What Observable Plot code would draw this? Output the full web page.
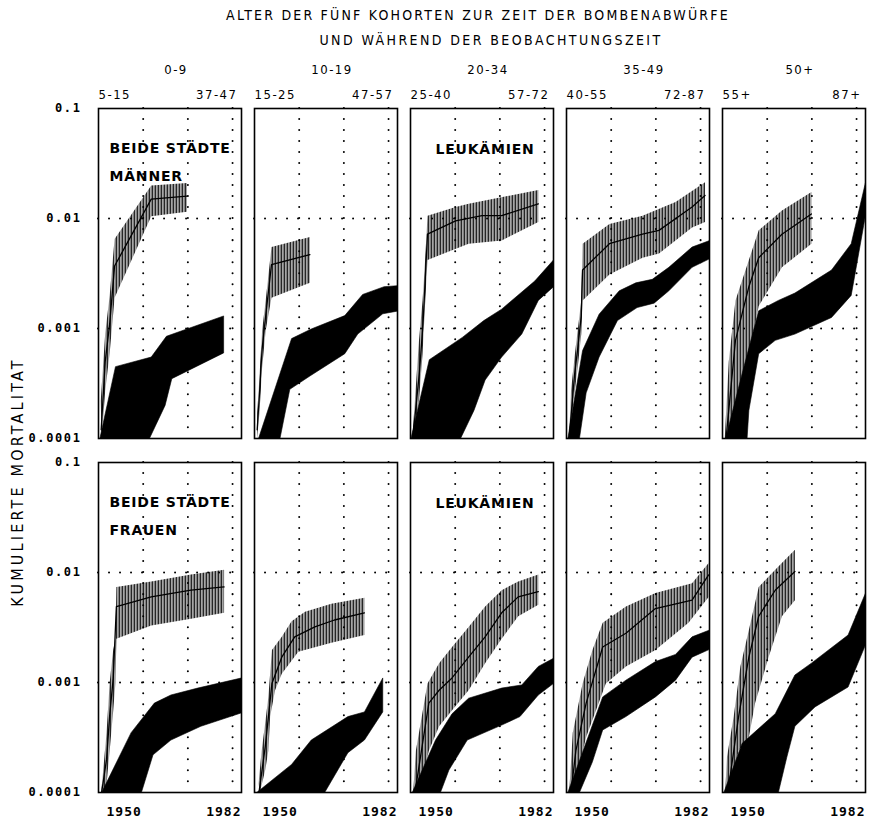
<!DOCTYPE html>
<html><head><meta charset="utf-8">
<script src="https://cdn.jsdelivr.net/npm/d3@7"></script>
<script src="https://cdn.jsdelivr.net/npm/@observablehq/plot@0.6"></script>
<style>
body{margin:0;background:#fff}
#wrap{position:relative;width:870px;height:829px;background:#fff}
#wrap svg{position:absolute;left:0;top:0}
.t{position:absolute;white-space:nowrap;font-family:"DejaVu Sans Condensed","DejaVu Sans",sans-serif;font-stretch:condensed;color:#000;line-height:1;transform:translate(-50%,-50%)}
.t1{left:478px;top:15px;font-size:14px;letter-spacing:2.2px}
.t2{left:491px;top:40px;font-size:14px;letter-spacing:2.4px}
.yl{left:18px;top:482px;font-size:16px;letter-spacing:3.2px;transform:translate(-50%,-50%) rotate(-90deg)}
g[font-family="DejaVu Sans Mono"]{letter-spacing:1.6px}
g[font-family="DejaVu Sans Mono, monospace"]{letter-spacing:1px}
g[font-family="DejaVu Sans"]{letter-spacing:0.8px}
g[font-family="DejaVu Sans Condensed"]{letter-spacing:1.5px}
</style></head><body>
<svg width="0" height="0" style="position:absolute"><defs>
<pattern id="vh" patternUnits="userSpaceOnUse" width="3" height="6"><rect x="0" y="0" width="1.7" height="6" fill="#000"/></pattern>
</defs></svg>
<div id="wrap">
<div class="t t1">ALTER DER FÜNF KOHORTEN ZUR ZEIT DER BOMBENABWÜRFE</div>
<div class="t t2">UND WÄHREND DER BEOBACHTUNGSZEIT</div>
<div class="t yl">KUMULIERTE MORTALITAT</div>
</div>
<script>
// ---- categories & tick labels ----
const cohorts = ["0-9", "10-19", "20-34", "35-49", "50+"];
const rows = ["MÄNNER", "FRAUEN"];
const ageStart = ["5-15", "15-25", "25-40", "40-55", "55+"];
const ageEnd = ["37-47", "47-57", "57-72", "72-87", "87+"];
const yTicks = [0.1, 0.01, 0.001, 0.0001];
const yTickLabels = ["0.1", "0.01", "0.001", "0.0001"];
const xTickStart = [1950];
const xTickEnd = [1982];
const gridYears = [1960, 1970, 1980];
const gridValues = [0.01, 0.001];
const xDomain = [1950, 1982];
const yDomain = [0.0001, 0.1];

// ---- Männer (top row): [year, cumulative mortality] ----
const M1HatchUp = [[1950.5,0.00022],[1951.5,0.0009],[1952.5,0.002],[1953.6,0.0065],[1961.8,0.020],[1969.8,0.021]];
const M1HatchLo = [[1950.7,0.0001],[1951.5,0.00027],[1952.5,0.0006],[1953.6,0.0019],[1961.8,0.0105],[1969.8,0.0115]];
const M1HatchMid = [[1950.6,0.00012],[1951.5,0.0005],[1952.5,0.0011],[1953.6,0.0037],[1961.8,0.015],[1969.8,0.016]];
const M1BlackUp = [[1950.3,0.0001],[1953.8,0.00045],[1961.8,0.00055],[1965.2,0.00085],[1978,0.0013]];
const M1BlackLo = [[1961.4,0.0001],[1964.9,0.0002],[1966.4,0.00035],[1978,0.0006]];

const M2HatchUp = [[1950.6,0.00017],[1951.1,0.00036],[1951.7,0.00096],[1952.5,0.0018],[1953.8,0.0055],[1962.4,0.0068]];
const M2HatchLo = [[1950.6,0.0001],[1951.1,0.00017],[1951.7,0.00044],[1952.5,0.00096],[1953.8,0.0019],[1962.4,0.0026]];
const M2HatchMid = [[1950.6,0.00012],[1951.1,0.00025],[1951.7,0.00065],[1952.5,0.0013],[1953.8,0.0038],[1962.4,0.0047]];
const M2BlackUp = [[1950.9,0.0001],[1958.3,0.00081],[1962.7,0.00099],[1970.2,0.00131],[1974.2,0.00204],[1979,0.0024],[1982,0.00245]];
const M2BlackLo = [[1955.7,0.0001],[1957.9,0.00028],[1962.4,0.00037],[1970.2,0.00059],[1973.1,0.00089],[1978.7,0.00136],[1982,0.00144]];

const M3HatchUp = [[1950.4,0.0001],[1951.9,0.00078],[1952.7,0.0018],[1953.3,0.0044],[1953.8,0.0106],[1960.1,0.0127],[1963,0.0136],[1978.6,0.0182]];
const M3HatchLo = [[1950.6,0.0001],[1951.9,0.00022],[1952.7,0.00059],[1953.3,0.0018],[1953.8,0.0042],[1963,0.0059],[1970.4,0.0063],[1978.6,0.0093]];
const M3HatchMid = [[1950.5,0.0001],[1952,0.0004],[1952.8,0.0011],[1953.8,0.0072],[1960.1,0.0095],[1966,0.0106],[1970.4,0.0106],[1978.6,0.0136]];
const M3BlackUp = [[1950.1,0.0001],[1954.2,0.00052],[1961.6,0.00083],[1966.4,0.00118],[1970.4,0.0015],[1977.8,0.0027],[1982,0.0042]];
const M3BlackLo = [[1961.2,0.0001],[1964.2,0.00018],[1966.7,0.00034],[1970.4,0.00055],[1974.9,0.00089],[1978.6,0.0018],[1982,0.0024]];

const M4HatchUp = [[1950.6,0.0001],[1951,0.00027],[1951.8,0.00055],[1952.5,0.00096],[1953.3,0.0018],[1953.6,0.0059],[1959.6,0.0089],[1967,0.0106],[1974.4,0.0141],[1981,0.0214]];
const M4HatchLo = [[1950.6,0.0001],[1951,0.00014],[1951.8,0.00026],[1952.5,0.00044],[1953.3,0.00089],[1953.6,0.0018],[1959.6,0.0031],[1967,0.0044],[1970.7,0.0048],[1978.1,0.0083],[1981,0.0093]];
const M4HatchMid = [[1950.6,0.0001],[1951.8,0.00038],[1952.5,0.00065],[1953.3,0.0013],[1953.6,0.0034],[1959.6,0.0059],[1967,0.0072],[1970.7,0.0078],[1978.1,0.0127],[1981,0.0162]];
const M4BlackUp = [[1950.3,0.0001],[1953.6,0.00063],[1957.3,0.00135],[1961.8,0.0022],[1965.5,0.0026],[1969.2,0.0028],[1972.9,0.0036],[1978.1,0.0055],[1982,0.0063]];
const M4BlackLo = [[1952.9,0.0001],[1954.4,0.00026],[1957.3,0.00055],[1961.4,0.00118],[1965.8,0.00155],[1969.6,0.0017],[1972.9,0.0022],[1978.1,0.0036],[1982,0.0043]];

const M5HatchUp = [[1950.5,0.0001],[1951.4,0.0005],[1952.9,0.0018],[1955.9,0.0042],[1958.1,0.0078],[1963.3,0.0118],[1969.9,0.0174]];
const M5HatchLo = [[1951.4,0.0001],[1954.4,0.00029],[1956.6,0.00078],[1958.1,0.0016],[1963.3,0.0036],[1969.9,0.0059]];
const M5HatchMid = [[1950.8,0.0001],[1952.9,0.00078],[1955.9,0.0024],[1958.1,0.0044],[1963.3,0.0072],[1969.9,0.011]];
const M5BlackUp = [[1950.7,0.0001],[1954.4,0.00039],[1958.1,0.00145],[1962.5,0.0018],[1966.2,0.0021],[1974.4,0.0034],[1978.8,0.0059],[1982,0.0213]];
const M5BlackLo = [[1955.5,0.0001],[1955.9,0.00018],[1958.1,0.00059],[1961.8,0.00078],[1966.2,0.00089],[1974.4,0.00126],[1978.8,0.002],[1982,0.0107]];

// ---- Frauen (bottom row) ----
const F1HatchUp = [[1950.6,0.0001],[1951.8,0.00035],[1952.5,0.001],[1953.3,0.002],[1953.8,0.0025],[1954,0.0074],[1961.8,0.0083],[1970.7,0.0096],[1978.1,0.0106]];
const F1HatchLo = [[1950.8,0.0001],[1951.8,0.00012],[1952.5,0.00024],[1953.3,0.00056],[1953.8,0.001],[1954,0.0025],[1961.8,0.0033],[1970.7,0.0038],[1978.1,0.0043]];
const F1HatchMid = [[1950.7,0.0001],[1951.8,0.0002],[1952.5,0.0005],[1953.3,0.0011],[1954,0.0049],[1961.8,0.006],[1970.7,0.0069],[1978.1,0.0074]];
const F1BlackUp = [[1950.7,0.0001],[1957.3,0.00035],[1962.5,0.00065],[1966.2,0.00077],[1972.2,0.00089],[1982,0.0011]];
const F1BlackLo = [[1959.6,0.0001],[1962.2,0.00022],[1966.2,0.0003],[1972.9,0.0004],[1982,0.00053]];

const F2HatchUp = [[1950.9,0.00012],[1951.6,0.00024],[1952.4,0.00043],[1953.1,0.00074],[1953.9,0.00197],[1956.1,0.0026],[1958.3,0.0036],[1961.3,0.0044],[1967.2,0.0052],[1974.6,0.0059]];
const F2HatchLo = [[1951.2,0.0001],[1952.4,0.00016],[1953.1,0.00024],[1953.5,0.00049],[1954.6,0.00085],[1956.1,0.0012],[1959.8,0.0019],[1967.2,0.0023],[1974.6,0.0027]];
const F2HatchMid = [[1951,0.0001],[1952.4,0.00026],[1953.9,0.00098],[1956.1,0.0017],[1959,0.0026],[1963.5,0.0032],[1967.9,0.0037],[1974.6,0.0043]];
const F2BlackUp = [[1950.5,0.0001],[1958.3,0.00018],[1962.7,0.0003],[1970.9,0.00049],[1974.6,0.00054],[1978.7,0.0011]];
const F2BlackLo = [[1965.7,0.0001],[1970.9,0.00023],[1974.6,0.0003],[1978.7,0.00054]];

const F3HatchUp = [[1950.6,0.0001],[1951.2,0.00024],[1953.8,0.00098],[1956.4,0.0015],[1959.3,0.0021],[1963,0.0032],[1966.7,0.0049],[1970.4,0.0069],[1974.1,0.0083],[1978.6,0.0096]];
const F3HatchLo = [[1951.9,0.0001],[1954.1,0.00024],[1956.4,0.0004],[1959.3,0.00056],[1963,0.00085],[1966.7,0.0015],[1970.4,0.0025],[1974.1,0.004],[1978.6,0.0051]];
const F3HatchMid = [[1951,0.0001],[1954.1,0.00065],[1956.4,0.00085],[1959.3,0.0011],[1963,0.0017],[1966.7,0.0026],[1970.4,0.0043],[1974.1,0.006],[1978.6,0.0067]];
const F3BlackUp = [[1950.4,0.0001],[1955.6,0.0003],[1959.3,0.00052],[1963,0.00072],[1970.4,0.00089],[1974.9,0.00095],[1978.6,0.0014],[1982,0.00166]];
const F3BlackLo = [[1956.7,0.0001],[1958.6,0.00016],[1962.7,0.0003],[1970.4,0.00041],[1974.5,0.00049],[1978.6,0.00077],[1982,0.00098]];

const F4HatchUp = [[1950.6,0.0001],[1951.4,0.00035],[1953.6,0.00098],[1955.8,0.00197],[1958.1,0.0035],[1963.3,0.0049],[1969.9,0.0065],[1978.1,0.008],[1981.8,0.0122]];
const F4HatchLo = [[1951.4,0.0001],[1954.4,0.00032],[1956.6,0.00056],[1958.8,0.00098],[1963.3,0.0014],[1969.9,0.00197],[1977.3,0.0035],[1981.8,0.006]];
const F4HatchMid = [[1951,0.0001],[1952.1,0.00024],[1954.4,0.00065],[1958.1,0.0021],[1963.3,0.0028],[1969.9,0.0047],[1978.1,0.0056],[1981.8,0.0095]];
const F4BlackUp = [[1950.3,0.0001],[1958.1,0.00074],[1963.3,0.00105],[1969.9,0.00155],[1974.4,0.0018],[1978.1,0.0026],[1982,0.003]];
const F4BlackLo = [[1952.9,0.0001],[1955.8,0.00019],[1958.1,0.00037],[1963.3,0.00049],[1969.9,0.00074],[1974.4,0.00105],[1978.1,0.0017],[1982,0.002]];

const F5HatchUp = [[1950.6,0.0001],[1951,0.00021],[1952.5,0.00049],[1954,0.0014],[1955.9,0.003],[1958.1,0.0074],[1961.8,0.0106],[1966.2,0.0161]];
const F5HatchLo = [[1951.4,0.0001],[1953.6,0.00024],[1955.9,0.00032],[1957.3,0.00065],[1960.3,0.0017],[1963.3,0.004],[1966.2,0.0056]];
const F5HatchMid = [[1951.2,0.0001],[1953.6,0.00049],[1955.9,0.0017],[1958.1,0.004],[1961.8,0.0069],[1966.2,0.0102]];
const F5BlackUp = [[1950.3,0.0001],[1954.4,0.00028],[1961.8,0.00052],[1966.2,0.00117],[1969.9,0.0015],[1978.1,0.0027],[1982,0.0065]];
const F5BlackLo = [[1962.5,0.0001],[1964.4,0.00021],[1966.2,0.0004],[1970.7,0.0006],[1978.1,0.00091],[1982,0.0022]];

// ---- assemble panels ----
const panels = [
  ["0-9","MÄNNER",M1HatchUp,M1HatchLo,M1HatchMid,M1BlackUp,M1BlackLo],
  ["10-19","MÄNNER",M2HatchUp,M2HatchLo,M2HatchMid,M2BlackUp,M2BlackLo],
  ["20-34","MÄNNER",M3HatchUp,M3HatchLo,M3HatchMid,M3BlackUp,M3BlackLo],
  ["35-49","MÄNNER",M4HatchUp,M4HatchLo,M4HatchMid,M4BlackUp,M4BlackLo],
  ["50+","MÄNNER",M5HatchUp,M5HatchLo,M5HatchMid,M5BlackUp,M5BlackLo],
  ["0-9","FRAUEN",F1HatchUp,F1HatchLo,F1HatchMid,F1BlackUp,F1BlackLo],
  ["10-19","FRAUEN",F2HatchUp,F2HatchLo,F2HatchMid,F2BlackUp,F2BlackLo],
  ["20-34","FRAUEN",F3HatchUp,F3HatchLo,F3HatchMid,F3BlackUp,F3BlackLo],
  ["35-49","FRAUEN",F4HatchUp,F4HatchLo,F4HatchMid,F4BlackUp,F4BlackLo],
  ["50+","FRAUEN",F5HatchUp,F5HatchLo,F5HatchMid,F5BlackUp,F5BlackLo]
];
const poly = (fx, fy, id, up, lo) =>
  up.concat(lo.slice().reverse()).map(([x, y]) => ({fx, fy, id, x, y}));
const hatchRows = [], blackRows = [], midRows = [];
panels.forEach(([fx, fy, hu, hl, hm, bu, bl], i) => {
  hatchRows.push(...poly(fx, fy, "h" + i, hu, hl));
  blackRows.push(...poly(fx, fy, "b" + i, bu, bl));
  hm.forEach(([x, y]) => midRows.push({fx, fy, id: "m" + i, x, y}));
});
const topRows = cohorts.map((c, i) => ({fx: c, fy: "MÄNNER", c, s: ageStart[i], e: ageEnd[i]}));
const labelCity = rows.map(r => ({fx: "0-9", fy: r, t: "BEIDE STÄDTE"}));
const labelSex = rows.map(r => ({fx: "0-9", fy: r, t: r}));
const labelLeuk = rows.map(r => ({fx: "20-34", fy: r, t: "LEUKÄMIEN"}));

const chart = Plot.plot({
  width: 870, height: 829,
  marginLeft: 97, marginRight: 3, marginTop: 107, marginBottom: 37,
  x: {domain: xDomain},
  y: {type: "log", domain: yDomain},
  fx: {domain: cohorts, axis: null, paddingInner: 0.083, paddingOuter: 0},
  fy: {domain: rows, axis: null, paddingInner: 0.068, paddingOuter: 0},
  style: {background: "#fff", color: "#000", overflow: "visible"},
  marks: [
    Plot.ruleX(gridYears, {stroke: "#000", strokeWidth: 2, strokeDasharray: "0.01 11", strokeLinecap: "round"}),
    Plot.ruleY(gridValues, {stroke: "#000", strokeWidth: 2, strokeDasharray: "0.01 11", strokeLinecap: "round"}),
    Plot.line(blackRows, {x: "x", y: "y", z: "id", fx: "fx", fy: "fy", fill: "#000", stroke: "#000", strokeWidth: 0.6, curve: "linear", clip: true}),
    Plot.line(hatchRows, {x: "x", y: "y", z: "id", fx: "fx", fy: "fy", fill: "url(#vh)", stroke: "none", curve: "linear", clip: true}),
    Plot.line(midRows, {x: "x", y: "y", z: "id", fx: "fx", fy: "fy", stroke: "#000", strokeWidth: 1.3, curve: "linear", clip: true}),
    Plot.frame({stroke: "#000", strokeWidth: 1.6}),
    Plot.text(labelCity, {fx: "fx", fy: "fy", text: "t", frameAnchor: "top-left", textAnchor: "start", dx: 11, dy: 35, fontSize: 14, fontWeight: "bold", fontFamily: "DejaVu Sans"}),
    Plot.text(labelSex, {fx: "fx", fy: "fy", text: "t", frameAnchor: "top-left", textAnchor: "start", dx: 11, dy: 63, fontSize: 14, fontWeight: "bold", fontFamily: "DejaVu Sans"}),
    Plot.text(labelLeuk, {fx: "fx", fy: "fy", text: "t", frameAnchor: "top", dx: 3, dy: 36, fontSize: 14, fontWeight: "bold", fontFamily: "DejaVu Sans"}),
    Plot.text(topRows, {fx: "fx", fy: "fy", text: "c", frameAnchor: "top", dx: 6, dy: -44, fontSize: 13, fontFamily: "DejaVu Sans Condensed"}),
    Plot.text(topRows, {fx: "fx", fy: "fy", text: "s", frameAnchor: "top-left", textAnchor: "start", dy: -19, fontSize: 13, fontFamily: "DejaVu Sans Condensed"}),
    Plot.text(topRows, {fx: "fx", fy: "fy", text: "e", frameAnchor: "top-right", textAnchor: "end", dx: -4, dy: -19, fontSize: 13, fontFamily: "DejaVu Sans Condensed"}),
    Plot.axisY({ticks: yTicks, tickFormat: d => yTickLabels[yTicks.indexOf(d)], tickSize: 0, tickPadding: 17, label: null, fontSize: 12, fontWeight: "bold", fontFamily: "DejaVu Sans Mono"}),
    Plot.axisX({ticks: xTickStart, tickFormat: d => String(d), tickSize: 0, tickPadding: 14, textAnchor: "start", dx: 8, label: null, fontSize: 13, fontWeight: "bold", fontFamily: "DejaVu Sans Mono, monospace"}),
    Plot.axisX({ticks: xTickEnd, tickFormat: d => String(d), tickSize: 0, tickPadding: 14, textAnchor: "end", label: null, fontSize: 13, fontWeight: "bold", fontFamily: "DejaVu Sans Mono, monospace"})
  ]
});
document.getElementById("wrap").prepend(chart);
</script>
</body></html>
